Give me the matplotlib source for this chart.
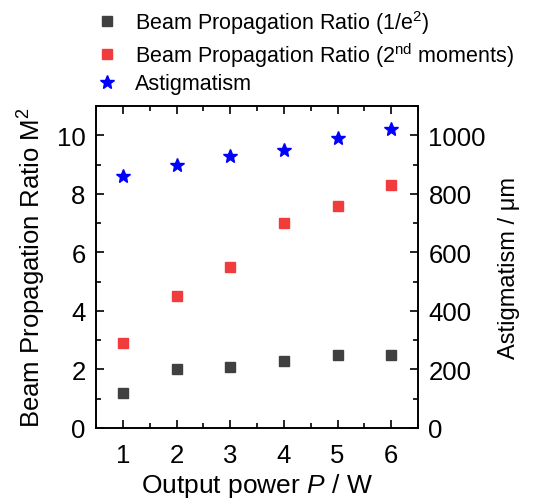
import matplotlib
matplotlib.use('Agg')
import matplotlib.pyplot as plt
from matplotlib.ticker import MultipleLocator

plt.rcParams['font.family'] = ['Liberation Sans', 'DejaVu Sans']
plt.rcParams['mathtext.fontset'] = 'custom'
plt.rcParams['mathtext.rm'] = 'Liberation Sans'
plt.rcParams['mathtext.it'] = 'Liberation Sans:italic'

# data
power = [1, 2, 3, 4, 5, 6]
m2_e2 = [1.2, 2.0, 2.1, 2.3, 2.5, 2.5]
m2_moments = [2.9, 4.5, 5.5, 7.0, 7.6, 8.3]
astig = [860, 900, 930, 950, 990, 1020]

fig = plt.figure(figsize=(5.38, 5.02), dpi=100)
ax = fig.add_axes([96 / 538, 1 - 429 / 502, (418 - 96) / 538, (429 - 107) / 502])
ax2 = ax.twinx()

h1, = ax.plot(power, m2_e2, 's', color='#404040', markersize=7.5, linestyle='none',
              label='Beam Propagation Ratio (1/e$^2$)')
h2, = ax.plot(power, m2_moments, 's', color='#f03c3c', markersize=7.5, linestyle='none',
              label='Beam Propagation Ratio (2$^{\\rm nd}$ moments)')
h3, = ax2.plot(power, astig, '*', color='#0000ff', markersize=10, linestyle='none',
               label='Astigmatism')

ax.set_xlim(0.5, 6.5)
ax.set_ylim(0, 11)
ax2.set_ylim(0, 1100)

ax.xaxis.set_major_locator(MultipleLocator(1))
ax.xaxis.set_minor_locator(MultipleLocator(0.5))
ax.yaxis.set_major_locator(MultipleLocator(2))
ax.yaxis.set_minor_locator(MultipleLocator(1))
ax2.yaxis.set_major_locator(MultipleLocator(200))
ax2.yaxis.set_minor_locator(MultipleLocator(100))

for a in (ax, ax2):
    a.tick_params(which='both', direction='in', labelsize=18.5, width=1.2, pad=7.5)
    a.tick_params(which='major', length=6)
    a.tick_params(which='minor', length=3.5)
    for s in a.spines.values():
        s.set_linewidth(1.2)
ax.tick_params(which='both', top=True)
ax.tick_params(axis='x', pad=11)

ax.set_xlabel('Output power $P$ / W', fontsize=19, labelpad=3)
ax.set_ylabel('Beam Propagation Ratio M$^2$', fontsize=18.5, labelpad=6)
ax2.set_ylabel('Astigmatism / \u03bcm', fontsize=17, labelpad=9)

fig.legend(handles=[h1, h2, h3], loc='upper left', bbox_to_anchor=(96 / 538, 1 - 9 / 502),
           frameon=False, fontsize=15.5, handlelength=1.0, handletextpad=0.8,
           labelspacing=0.2, borderaxespad=0, borderpad=0)

plt.savefig('out.png', dpi=100)
plt.close(fig)
